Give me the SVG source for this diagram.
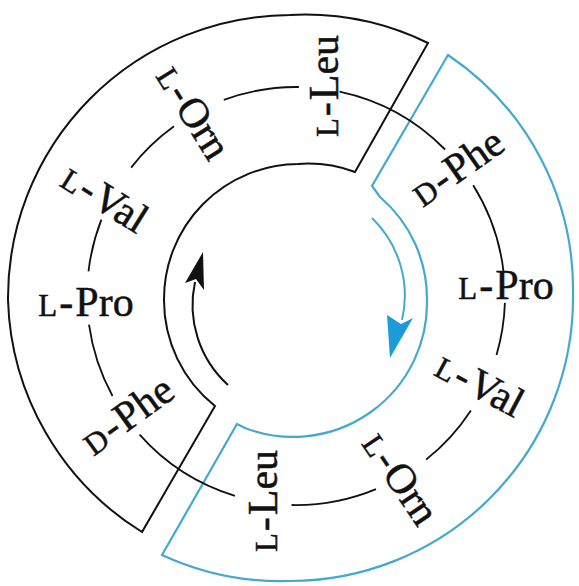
<svg xmlns="http://www.w3.org/2000/svg" width="579" height="586" viewBox="0 0 579 586">
<style>
.bk{fill:none;stroke:#111;stroke-width:2;stroke-linejoin:miter}
.bl{fill:none;stroke:#45a8d0;stroke-width:2.2;stroke-linejoin:miter}
.trk{fill:none;stroke:#111;stroke-width:1.8}
.lb{font-family:"Liberation Serif","Times New Roman",serif;font-size:42px;fill:#111;stroke:#111;stroke-width:0.5;text-anchor:middle}
.sc{font-size:31px}
</style>
<rect width="579" height="586" fill="#fff"/>
<g id="black-half">
<path class="bk" d="M142,532 A283,283 0 0 1 8,300 A283,283 0 0 1 290,15 A283,283 0 0 1 428,43 L355,172 A135,135 0 0 0 298,164 A135,135 0 0 0 164,300 A135,135 0 0 0 215,406 Z"/>
</g>
<g id="blue-half">
<path class="bl" d="M448,55 A283,283 0 0 1 573,295 A283,283 0 0 1 290,581 A283,283 0 0 1 162,555 L237,424 L245,428 A134,134 0 0 0 427,300 A134,134 0 0 0 380,197 L372,186 Z"/>
</g>
<g id="connectors">
<path class="trk" d="M112.5,396 A209,209 0 0 1 89,324.7"/>
<path class="trk" d="M88.5,271.3 A209,209 0 0 1 101.4,219.7"/>
<path class="trk" d="M131.1,167.6 A209,209 0 0 1 174,126.3"/>
<path class="trk" d="M223.8,99.9 A209,209 0 0 1 298.9,87"/>
<path class="trk" d="M339.5,91.6 A209,209 0 0 1 445.1,149.5"/>
<path class="trk" d="M473.2,185.3 A209,209 0 0 1 503.5,271.3"/>
<path class="trk" d="M504.9,302.9 A209,209 0 0 1 496.5,355"/>
<path class="trk" d="M470.9,410.4 A209,209 0 0 1 426.1,459.6"/>
<path class="trk" d="M376,489.1 A209,209 0 0 1 291.6,505"/>
<path class="trk" d="M234.9,495.9 A209,209 0 0 1 139.6,434.7"/>
</g>
<g id="arrow-black">
<path fill="none" stroke="#111" stroke-width="2" d="M228,385 A108,108 0 0 1 195,282"/>
<path fill="#111" d="M203,252 L204,290 L196,279 L185,283 Z"/>
</g>
<g id="arrow-blue">
<path fill="none" stroke="#45a8d0" stroke-width="2" d="M372,218 A108,108 0 0 1 402,320"/>
<path fill="#1c9bd8" d="M390,358 L387,315 L401,324 L413,318 Z"/>
</g>
<g id="label-lpro-left"><text class="lb" transform="translate(86,302)" y="14"><tspan class="sc">L</tspan><tspan dx="2">-</tspan><tspan dx="2">Pro</tspan></text></g>
<g id="label-lval-left"><text class="lb" transform="translate(105,198) rotate(32)" y="14"><tspan class="sc">L</tspan><tspan dx="2">-</tspan><tspan dx="2">Val</tspan></text></g>
<g id="label-lorn-top"><text class="lb" transform="translate(194,112) rotate(58)" y="14"><tspan class="sc">L</tspan><tspan dx="2">-</tspan><tspan dx="2">Orn</tspan></text></g>
<g id="label-lleu-top"><text class="lb" transform="translate(324,86) rotate(-90)" y="14"><tspan class="sc">L</tspan><tspan dx="2">-</tspan><tspan dx="2">Leu</tspan></text></g>
<g id="label-dphe-right"><text class="lb" transform="translate(457,167) rotate(-35)" y="14"><tspan class="sc">D</tspan><tspan dx="2">-</tspan><tspan dx="2">Phe</tspan></text></g>
<g id="label-lpro-right"><text class="lb" transform="translate(506,285)" y="14"><tspan class="sc">L</tspan><tspan dx="2">-</tspan><tspan dx="2">Pro</tspan></text></g>
<g id="label-lval-right"><text class="lb" transform="translate(480,384) rotate(28)" y="14"><tspan class="sc">L</tspan><tspan dx="2">-</tspan><tspan dx="2">Val</tspan></text></g>
<g id="label-lorn-bottom"><text class="lb" transform="translate(401,478) rotate(56)" y="14"><tspan class="sc">L</tspan><tspan dx="2">-</tspan><tspan dx="2">Orn</tspan></text></g>
<g id="label-lleu-bottom"><text class="lb" transform="translate(263,501) rotate(-90)" y="14"><tspan class="sc">L</tspan><tspan dx="2">-</tspan><tspan dx="2">Leu</tspan></text></g>
<g id="label-dphe-left"><text class="lb" transform="translate(127,415) rotate(-36)" y="14"><tspan class="sc">D</tspan><tspan dx="2">-</tspan><tspan dx="2">Phe</tspan></text></g>
</svg>
